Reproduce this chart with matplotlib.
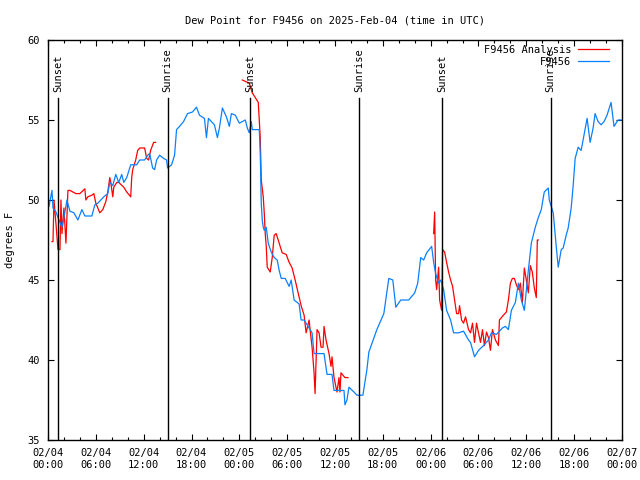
import numpy as np
import matplotlib
matplotlib.use("Agg")
import matplotlib.pyplot as plt

# ---- data (hours after 2025-02-04 00:00 UTC, dew point in F) ----
obs_hours = [0, 0.125, 0.5, 0.625, 1.0, 1.25, 1.5, 1.75, 2.0, 2.375, 2.75, 3.25, 3.75, 4.25, 4.625,
             5.5, 5.875, 6.25, 6.625, 7.0, 7.5, 7.75, 8.125, 8.5, 8.875, 9.25, 9.5, 9.875, 10.375,
             11.125, 11.5, 12.125, 12.5, 12.75, 13.125, 13.375, 13.625, 14.0, 14.5, 14.875, 15.0,
             15.5, 15.875, 16.125, 16.5, 17.0, 17.5, 18.125, 18.625, 19.0, 19.625, 19.875, 20.125,
             20.875, 21.25, 21.5, 21.875, 22.375, 22.75, 23.0, 23.5, 24.0, 24.375, 24.75, 25.0,
             25.25, 25.5, 25.625, 26.5, 26.625, 26.75, 26.875, 27.0, 27.125, 27.375, 27.625, 28.0,
             28.375, 28.75, 29.0, 29.25, 29.75, 30.25, 30.5, 30.875, 31.5, 31.75, 32.125, 32.75,
             33.125, 33.375, 34.625, 35.0, 35.625, 35.875, 37.125, 37.25, 37.5, 37.75, 38.375,
             38.75, 39.5, 40.0, 40.25, 41.25, 42.125, 42.75, 43.25, 43.625, 44.25, 45.25, 46.0,
             46.375, 46.75, 47.125, 47.5, 48.125, 48.375, 48.625, 49.0, 49.25, 49.625, 50.0, 50.5,
             50.875, 51.5, 52.125, 52.75, 53.0, 53.5, 54.0, 54.625, 55.25, 55.625, 56.25, 57.0,
             57.375, 57.75, 58.125, 58.625, 59.0, 59.375, 59.75, 60.25, 60.625, 61.125, 61.5,
             61.875, 62.25, 62.75, 62.875, 63.375, 63.75, 64.0, 64.375, 64.625, 65.0, 65.25,
             65.625, 65.875, 66.125, 66.5, 66.875, 67.25, 67.625, 68.0, 68.375, 68.625, 69.0,
             69.375, 69.75, 70.125, 70.625, 71.0, 71.5, 72.0]
obs_dewpt = [49.6, 49.6, 50.6, 49.5, 49.25, 48.9, 48.6, 48.3, 48.9, 50.0, 49.3, 49.2, 48.75, 49.4, 49.0,
             49.0, 49.7, 49.8, 50.0, 50.2, 50.4, 51.1, 50.9, 51.6, 51.1, 51.6, 51.1, 51.4, 52.2,
             52.2, 52.5, 52.5, 52.8, 52.9, 52.0, 51.9, 52.5, 52.8, 52.6, 52.5, 52.0,
             52.2, 52.8, 54.4, 54.6, 54.9, 55.4, 55.5, 55.8, 55.3, 55.1, 53.9, 55.1,
             54.7, 53.9, 54.5, 55.75, 55.2, 54.6, 55.4, 55.3, 54.8, 54.9, 55.0, 54.5,
             54.2, 54.9, 54.4, 54.4, 52.9, 49.8, 48.75, 48.3, 48.1, 48.3, 47.3, 46.75,
             46.4, 46.25, 45.6, 45.1, 45.1, 44.6, 45.0, 43.75, 43.5, 42.5, 42.5, 42.0,
             41.7, 40.4, 40.4, 39.1, 39.1, 38.1, 38.1, 37.2, 37.5, 38.3, 38.0,
             37.8, 37.8, 39.4, 40.5, 41.9, 42.9, 45.1, 45.0, 43.3, 43.75, 43.75, 44.2,
             44.8, 46.4, 46.25, 46.7, 47.1, 46.1, 45.4, 44.8, 45.0, 44.4, 43.1, 42.5,
             41.7, 41.7, 41.8, 41.25, 41.1, 40.2, 40.6, 40.9, 41.25, 41.7, 41.6, 42.0,
             42.1, 41.9, 43.1, 43.6, 44.8, 43.75, 43.1, 45.6, 47.3, 48.3, 48.9,
             49.4, 50.5, 50.75, 50.0, 49.2, 47.1, 45.8, 46.9, 47.0, 47.8, 48.25,
             49.5, 50.9, 52.6, 53.3, 53.1, 54.1, 55.1, 53.6, 54.5, 55.4, 54.9,
             54.7, 54.9, 55.3, 56.1, 54.6, 55.0, 55.0]

ana_hours = [0.5, 0.625, 0.75, 1.0, 1.25, 1.5, 1.625, 1.75, 2.0, 2.25, 2.5, 2.75, 3.5, 4.0, 4.625,
             4.75, 5.0, 5.5, 5.75, 6.0, 6.25, 6.5, 6.875, 7.25, 7.5, 7.75, 7.875, 8.125, 8.25,
             8.625, 8.875, 9.5, 9.875, 10.375, 10.5, 10.625, 11.0, 11.25, 11.5, 12.125, 12.375,
             12.625, 12.875, 13.25, 13.5,
             np.nan,
             24.375, 25.25, 25.625, 26.0, 26.375, 26.625, 26.75, 27.0, 27.125, 27.25, 27.375,
             27.5, 27.875, 28.125, 28.375, 28.625, 29.0, 29.375, 29.875, 30.25, 30.625, 31.0,
             31.375, 31.75, 32.125, 32.375, 32.75, 32.875, 33.125, 33.375, 33.5, 33.75, 34.0,
             34.25, 34.5, 34.625, 34.875, 35.25, 35.5, 35.625, 35.875, 36.25, 36.5, 36.625,
             36.75, 37.25, 37.625,
             np.nan,
             48.375, 48.5, 48.625, 48.75, 49.0, 49.125, 49.375, 49.5, 49.75, 50.0, 50.25, 50.5,
             50.75, 51.0, 51.25, 51.5, 51.625, 51.875, 52.125, 52.375, 52.75, 53.0, 53.25, 53.5,
             53.75, 54.0, 54.25, 54.5, 54.75, 55.0, 55.25, 55.5, 55.75, 56.125, 56.5, 56.625,
             57.125, 57.5, 57.75, 58.0, 58.25, 58.5, 58.75, 59.0, 59.25, 59.5, 59.75, 60.0,
             60.25, 60.5, 60.75, 61.0, 61.25, 61.375, 61.5]
ana_dewpt = [47.4, 47.4, 50.0, 48.5, 46.9, 46.9, 50.0, 47.9, 49.5, 47.3, 50.6, 50.6, 50.4, 50.4, 50.7,
             50.0, 50.2, 50.3, 50.4, 49.8, 49.5, 49.2, 49.4, 49.9, 50.5, 51.4, 51.1, 50.2, 50.8,
             51.1, 51.1, 50.8, 50.5, 50.2, 51.4, 51.9, 52.5, 53.1, 53.25, 53.25, 52.6,
             52.5, 53.1, 53.6, 53.6,
             np.nan,
             57.5, 57.3, 56.7, 56.4, 56.1, 53.9, 51.25, 50.2, 49.2, 47.9, 47.1,
             45.8, 45.5, 46.4, 47.8, 47.9, 47.3, 46.7, 46.6, 46.1, 45.75, 45.0,
             44.2, 43.4, 42.8, 41.7, 42.5, 41.9, 40.8, 39.2, 37.9, 41.9, 41.7,
             40.8, 40.8, 42.1, 41.25, 40.4, 39.6, 40.2, 38.9, 38.0, 38.9, 38.0,
             39.2, 38.9, 38.9,
             np.nan,
             47.9, 49.25, 45.0, 44.4, 45.8, 43.75, 43.1, 46.9, 46.75, 46.1, 45.5, 45.0,
             44.6, 43.75, 42.9, 42.9, 43.4, 42.5, 42.3, 42.7, 41.9, 41.7, 42.3, 41.1,
             42.3, 41.7, 41.1, 41.9, 40.9, 41.75, 41.4, 40.6, 41.9, 41.25, 40.9, 42.5,
             42.8, 43.0, 43.75, 44.8, 45.1, 45.1, 44.7, 44.4, 44.8, 43.6, 45.75, 45.0,
             44.2, 45.9, 45.5, 44.5, 43.9, 47.5, 47.5]

sun_hours = [1.3, 15.0, 25.4, 39.05, 49.45, 63.05]
sun_labels = ["Sunset", "Sunrise", "Sunset", "Sunrise", "Sunset", "Sunrise"]

tick_hours = list(range(0, 73, 6))
tick_labels = ["02/04\n00:00", "02/04\n06:00", "02/04\n12:00", "02/04\n18:00",
               "02/05\n00:00", "02/05\n06:00", "02/05\n12:00", "02/05\n18:00",
               "02/06\n00:00", "02/06\n06:00", "02/06\n12:00", "02/06\n18:00",
               "02/07\n00:00"]

FONT = "DejaVu Sans Mono"
FS = 7.5
plt.rcParams['font.family'] = FONT

fig = plt.figure(figsize=(6.4, 4.8), dpi=100)
ax = fig.add_axes([48/640, 40/480, 574/640, 400/480])

ax.plot(ana_hours, ana_dewpt, color="#ff0000", lw=0.9, label="F9456 Analysis")
ax.plot(obs_hours, obs_dewpt, color="#0a80ff", lw=0.9, label="F9456")

for h, lab in zip(sun_hours, sun_labels):
    ax.plot([h, h], [35, 56.4], color="black", lw=1.0)
    ax.text(h, 56.75, lab, rotation=90, ha="center", va="bottom", fontsize=FS)

ax.set_xlim(0, 72)
ax.set_ylim(35, 60)
ax.set_xticks(tick_hours)
ax.set_xticklabels(tick_labels, fontsize=FS)
ax.set_xticks(list(range(0, 73, 2)), minor=True)
ax.set_yticks([35, 40, 45, 50, 55, 60])
ax.tick_params(axis="y", labelsize=FS)
ax.tick_params(which="major", direction="in", length=4.5, width=0.8, top=True, right=True, pad=6)
ax.tick_params(which="minor", direction="in", length=2.5, width=0.8, top=True, right=True)
for s in ax.spines.values():
    s.set_linewidth(1.0)

ax.set_title("Dew Point for F9456 on 2025-Feb-04 (time in UTC)", fontsize=FS, pad=12)
ax.text(-0.066, 0.5, "degrees F", rotation=90, ha="center", va="center",
        transform=ax.transAxes, fontsize=FS)

leg = ax.legend(loc="upper right", bbox_to_anchor=(0.99, 1.006), frameon=False,
                markerfirst=False, fontsize=FS, handlelength=3.0, borderaxespad=0.3,
                labelspacing=0.2, handletextpad=0.6)

fig.savefig("out.png", dpi=100)
